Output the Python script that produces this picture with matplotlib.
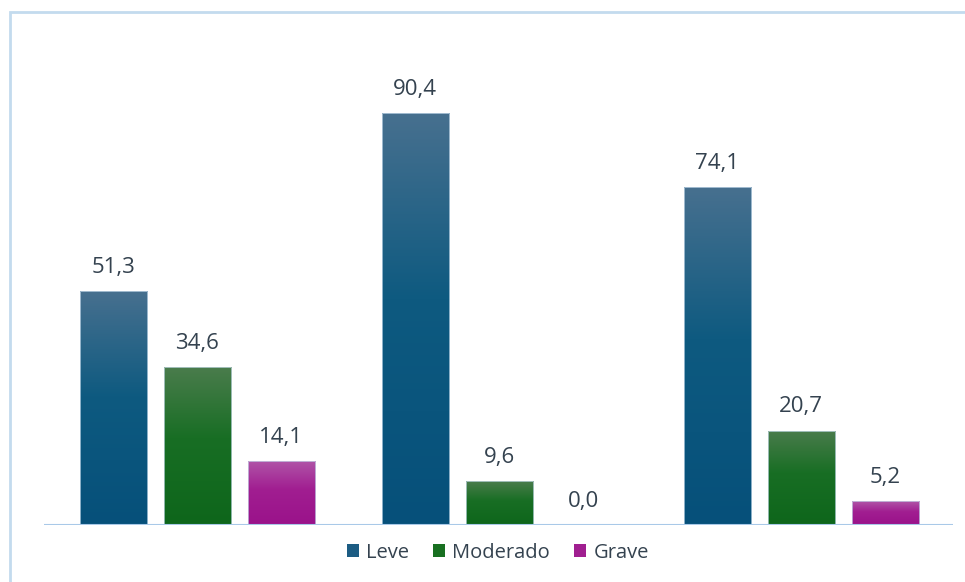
import numpy as np
import matplotlib
matplotlib.use('Agg')
import matplotlib.pyplot as plt
from matplotlib.colors import LinearSegmentedColormap
from matplotlib.patches import Rectangle, Patch

plt.rcParams['font.family'] = ['Open Sans', 'DejaVu Sans']

# data
groups = ['1', '2', '3']
series = ['Leve', 'Moderado', 'Grave']
leve = [51.3, 90.4, 74.1]
moderado = [34.6, 9.6, 20.7]
grave = [14.1, 0.0, 5.2]

# bottom, middle, top colours for each series gradient
grad_colors = {
    'Leve': ('#06507a', '#0e5a80', '#47708f'),
    'Moderado': ('#0e661b', '#186e24', '#4a7c4c'),
    'Grave': ('#9a128a', '#a11e91', '#b056a8'),
}
legend_colors = {'Leve': '#1c5c83', 'Moderado': '#187021', 'Grave': '#a01f90'}

fig = plt.figure(figsize=(9.65, 5.82), dpi=100)
ax = fig.add_axes([0.0456, 0.0979, 0.942, 0.783])

x = np.arange(len(groups))
width = 0.222
step = 0.278
values = [leve, moderado, grave]

for i, (name, vals) in enumerate(zip(series, values)):
    pos = x + (i - 1) * step
    bars = ax.bar(pos, vals, width, color='none', edgecolor='none', zorder=2)
    c0, c1, c2 = grad_colors[name]
    cmap = LinearSegmentedColormap.from_list(name, [(0, c0), (0.55, c1), (1, c2)])
    for b, v in zip(bars, vals):
        if v > 0:
            grad = np.linspace(0, 1, 256).reshape(-1, 1)
            im = ax.imshow(grad, cmap=cmap, origin='lower', aspect='auto',
                           extent=[b.get_x(), b.get_x() + b.get_width(), 0, v], zorder=2)
            im.set_clip_path(b)
            ax.add_patch(Rectangle((b.get_x(), 0), b.get_width(), v, fill=False,
                                   edgecolor='#c9dcec', linewidth=0.7, alpha=0.7, zorder=3))
        ax.text(b.get_x() + b.get_width() / 2, v + 2.9, f'{v:.1f}'.replace('.', ','),
                ha='center', va='bottom', fontsize=16, color='#34424f')

ax.set_xlim(-0.507, 2.503)
ax.set_ylim(0, 100)
ax.axhline(0, color='#a9c9e8', linewidth=1.5, zorder=4)
for s in ax.spines.values():
    s.set_visible(False)
ax.set_xticks([])
ax.set_yticks([])

handles = [Patch(facecolor=legend_colors[n], label=n) for n in series]
fig.legend(handles=handles, loc='center', bbox_to_anchor=(0.516, 0.05), ncol=3,
           frameon=False, fontsize=14.5, handlelength=0.6, handleheight=0.6,
           handletextpad=0.35, columnspacing=1.2, labelcolor='#34424f')

# outer frame
fig.patches.append(Rectangle((10 / 965, -0.1), 1.1, (582 - 12) / 582 + 0.1,
                             transform=fig.transFigure, fill=False,
                             edgecolor='#c3dbee', linewidth=2))

fig.savefig('out.png', dpi=100)
